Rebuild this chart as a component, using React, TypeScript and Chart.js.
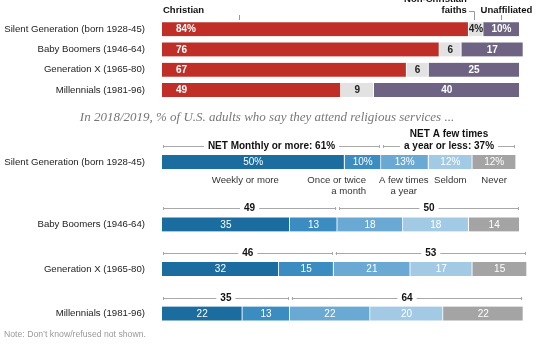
import React, { useEffect, useRef } from 'react';
import { Chart, registerables } from 'chart.js';
Chart.register(...registerables);

// ---------- data ----------
const generations = [
  'Silent Generation (born 1928-45)',
  'Baby Boomers (1946-64)',
  'Generation X (1965-80)',
  'Millennials (1981-96)',
];
const christian = [84, 76, 67, 49];
const nonChristian = [4, 6, 6, 9];
const unaffiliated = [10, 17, 25, 40];

const weekly = [50, 35, 32, 22];
const monthly = [10, 13, 15, 13];
const fewTimes = [13, 18, 21, 22];
const seldom = [12, 18, 17, 20];
const never = [12, 14, 15, 22];
const netMonthly = [61, 49, 46, 35];
const netYearly = [37, 50, 53, 64];

const attendCategories = [
  ['Weekly or more'],
  ['Once or twice', 'a month'],
  ['A few times', 'a year'],
  ['Seldom'],
  ['Never'],
];

// ---------- style ----------
const FONT = '"Liberation Sans", Arial, sans-serif';
const AXIS_W = 162;
const PAD_R = 33;
const RED = '#bf2f28';
const LGRAY = '#e2e2e2';
const PURPLE = '#6e6383';
const BLUES = ['#1b6d9f', '#3a8cc1', '#6aa9d3', '#a3cae5', '#a4a4a4'];
const BORDER = { top: 0, bottom: 0, left: 0, right: 1 };

function yAxis(labels: string[]) {
  return {
    type: 'category' as const,
    labels,
    stacked: true,
    grid: { display: true, color: 'rgba(0,0,0,0)', drawOnChartArea: false, drawTicks: true, tickLength: 17 },
    border: { display: false },
    ticks: { color: '#222', font: { family: FONT, size: 9.65 }, padding: 0 },
    afterFit: (s: any) => {
      s.width = AXIS_W;
    },
  };
}
const xAxis = { type: 'linear' as const, min: 0, max: 100, display: false, stacked: true };

// ---------- plugins ----------
const topLabels = {
  id: 'topLabels',
  afterDatasetsDraw(chart: any) {
    const ctx = chart.ctx;
    ctx.save();
    ctx.textBaseline = 'middle';
    ctx.font = `bold 10px ${FONT}`;
    chart.data.datasets.forEach((ds: any, di: number) => {
      const meta = chart.getDatasetMeta(di);
      meta.data.forEach((el: any, i: number) => {
        const { x, base, y } = el.getProps(['x', 'base', 'y'], true);
        const v = ds.data[i];
        const txt = i === 0 ? `${v}%` : String(v);
        if (di === 0) {
          ctx.fillStyle = '#fff';
          ctx.textAlign = 'left';
          ctx.fillText(txt, base + 14, y + 0.5);
        } else {
          ctx.fillStyle = di === 1 ? '#222' : '#fff';
          ctx.textAlign = 'center';
          ctx.fillText(txt, (x + base) / 2, y + 0.5);
        }
      });
    });
    // header labels
    const xs = chart.scales.x;
    ctx.fillStyle = '#111';
    ctx.font = `bold 9.5px ${FONT}`;
    ctx.textAlign = 'left';
    ctx.fillText('Christian', chart.chartArea.left + 1, 10);
    const c0 = christian[0];
    const n0 = nonChristian[0];
    const u0 = unaffiliated[0];
    const chX = xs.getPixelForValue(c0 * 0.25);
    const ncX = xs.getPixelForValue(c0 + n0 / 2);
    const unX = xs.getPixelForValue(c0 + n0 + u0 / 2);
    ctx.textAlign = 'right';
    ctx.fillText('Non-Christian', ncX - 9, -1);
    ctx.fillText('faiths', ncX - 9, 10);
    ctx.textAlign = 'center';
    ctx.fillText('Unaffiliated', unX + 5, 10);
    ctx.strokeStyle = '#999';
    ctx.lineWidth = 1;
    ctx.beginPath();
    ctx.moveTo(Math.round(chX) + 0.5, 15);
    ctx.lineTo(Math.round(chX) + 0.5, 20);
    ctx.moveTo(ncX - 7, 11.5);
    ctx.lineTo(Math.round(ncX) - 1.5, 11.5);
    ctx.lineTo(Math.round(ncX) - 1.5, 20);
    ctx.moveTo(Math.round(unX) + 0.5, 15);
    ctx.lineTo(Math.round(unX) + 0.5, 20);
    ctx.stroke();
    ctx.restore();
  },
};

function makeAttendPlugin(withPct: boolean, rowOffset: number, showCats: boolean) {
  return {
    id: 'attendLabels',
    afterDatasetsDraw(chart: any) {
      const ctx = chart.ctx;
      ctx.save();
      ctx.textBaseline = 'middle';
      ctx.font = `10px ${FONT}`;
      chart.data.datasets.forEach((ds: any, di: number) => {
        const meta = chart.getDatasetMeta(di);
        meta.data.forEach((el: any, i: number) => {
          const { x, base, y } = el.getProps(['x', 'base', 'y'], true);
          const v = ds.data[i];
          ctx.fillStyle = '#fff';
          ctx.textAlign = 'center';
          ctx.fillText(withPct ? `${v}%` : String(v), (x + base) / 2, y + 0.5);
        });
      });
      // brackets
      const nRows = chart.data.datasets[0].data.length;
      for (let i = 0; i < nRows; i++) {
        const r = i + rowOffset;
        const e0 = chart.getDatasetMeta(0).data[i].getProps(['x', 'base', 'y', 'height'], true);
        const e1 = chart.getDatasetMeta(1).data[i].getProps(['x'], true);
        const e2 = chart.getDatasetMeta(2).data[i].getProps(['base'], true);
        const e4 = chart.getDatasetMeta(4).data[i].getProps(['x'], true);
        const top = e0.y - e0.height / 2;
        const ly = Math.round(top - 9) + 0.5;
        const g1 = withPct ? [`NET Monthly or more: ${netMonthly[r]}%`] : [String(netMonthly[r])];
        const g2 = withPct
          ? ['NET A few times', `a year or less: ${netYearly[r]}%`]
          : [String(netYearly[r])];
        const groups: [number, number, string[]][] = [
          [e0.base + 1, e1.x - 1, g1],
          [e2.base + 2, e4.x - 1, g2],
        ];
        groups.forEach(([a, b, lines]) => {
          ctx.strokeStyle = '#a8a8a8';
          ctx.lineWidth = 1;
          ctx.beginPath();
          ctx.moveTo(a, ly);
          ctx.lineTo(b, ly);
          ctx.moveTo(Math.round(a) + 0.5, ly - 1.5);
          ctx.lineTo(Math.round(a) + 0.5, ly + 1.5);
          ctx.moveTo(Math.round(b) - 0.5, ly - 1.5);
          ctx.lineTo(Math.round(b) - 0.5, ly + 1.5);
          ctx.stroke();
          ctx.font = `bold 10px ${FONT}`;
          const cx = (a + b) / 2;
          lines.forEach((t, k) => {
            const yy = ly - (lines.length - 1 - k) * 12;
            const w = ctx.measureText(t).width;
            if (k === lines.length - 1) {
              ctx.fillStyle = '#fff';
              ctx.fillRect(cx - w / 2 - 4, yy - 6, w + 8, 12);
            }
            ctx.fillStyle = '#111';
            ctx.textAlign = 'center';
            ctx.fillText(t, cx, yy);
          });
        });
        if (showCats) {
          ctx.font = `9.6px ${FONT}`;
          ctx.fillStyle = '#333';
          const bottom = e0.y + e0.height / 2;
          for (let d = 0; d < 5; d++) {
            const el = chart.getDatasetMeta(d).data[i].getProps(['x', 'base'], true);
            const lines = attendCategories[d];
            let ax = (el.x + el.base) / 2;
            let align: CanvasTextAlign = 'center';
            if (d === 0) ax -= 8;
            if (d === 1) {
              ax = el.x - 15;
              align = 'right';
            }
            if (d === 2) ax -= 1;
            lines.forEach((t, k) => {
              ctx.textAlign = align;
              ctx.fillText(t, ax, bottom + 11 + k * 11.5);
            });
          }
        }
      }
      ctx.restore();
    },
  };
}

function attendDatasets(idx: number[]) {
  const series = [weekly, monthly, fewTimes, seldom, never];
  const names = ['Weekly or more', 'Once or twice a month', 'A few times a year', 'Seldom', 'Never'];
  return series.map((s, k) => ({
    label: names[k],
    data: idx.map((i) => s[i]),
    backgroundColor: BLUES[k],
    borderColor: '#fff',
    borderWidth: BORDER,
    borderSkipped: false,
    barThickness: 14,
  }));
}

function useChart(ref: React.RefObject<HTMLCanvasElement>, build: () => any) {
  useEffect(() => {
    if (!ref.current) return;
    const c = new Chart(ref.current, build());
    return () => c.destroy();
  }, []);
}

const baseOptions = (padTop: number, padBottom: number, labels: string[]) => ({
  indexAxis: 'y' as const,
  animation: false as const,
  responsive: false,
  maintainAspectRatio: false,
  events: [],
  layout: { padding: { left: 0, right: PAD_R, top: padTop, bottom: padBottom } },
  plugins: { legend: { display: false }, tooltip: { enabled: false } },
  scales: { x: xAxis, y: yAxis(labels) },
});

export default function App() {
  const topRef = useRef<HTMLCanvasElement>(null);
  const silentRef = useRef<HTMLCanvasElement>(null);
  const restRef = useRef<HTMLCanvasElement>(null);

  useChart(topRef, () => ({
    type: 'bar',
    data: {
      labels: generations,
      datasets: [
        { label: 'Christian', data: christian, backgroundColor: RED },
        { label: 'Non-Christian faiths', data: nonChristian, backgroundColor: LGRAY },
        { label: 'Unaffiliated', data: unaffiliated, backgroundColor: PURPLE },
      ].map((d) => ({ ...d, borderColor: '#fff', borderWidth: BORDER, borderSkipped: false, barThickness: 14 })),
    },
    options: baseOptions(19, 9.8, generations),
    plugins: [topLabels],
  }));

  useChart(silentRef, () => ({
    type: 'bar',
    data: { labels: [generations[0]], datasets: attendDatasets([0]) },
    options: baseOptions(28, 80 - 46, [generations[0]]),
    plugins: [makeAttendPlugin(true, 0, true)],
  }));

  useChart(restRef, () => ({
    type: 'bar',
    data: { labels: generations.slice(1), datasets: attendDatasets([1, 2, 3]) },
    options: baseOptions(12.1, 14.1, generations.slice(1)),
    plugins: [makeAttendPlugin(false, 1, false)],
  }));

  const abs = (top: number, h: number): React.CSSProperties => ({
    position: 'absolute',
    left: 0,
    top,
    width: 560,
    height: h,
  });

  return (
    <div style={{ position: 'absolute', left: 0, top: 0, width: 560, height: 350, background: '#fff', overflow: 'hidden' }}>
      <canvas ref={topRef} width={560} height={110} style={abs(0, 110)} />
      <div
        style={{
          position: 'absolute',
          left: 0,
          top: 109,
          width: 534,
          textAlign: 'center',
          font: 'italic 13px "Liberation Serif", serif',
          lineHeight: '16px',
          color: '#777',
        }}
      >
        In 2018/2019, % of U.S. adults who say they attend religious services ...
      </div>
      <canvas ref={silentRef} width={560} height={80} style={abs(125, 80)} />
      <canvas ref={restRef} width={560} height={160} style={abs(190, 160)} />
      <div
        style={{
          position: 'absolute',
          left: 4,
          top: 328,
          font: `8.7px ${FONT}`,
          lineHeight: '12px',
          color: '#999',
        }}
      >
        Note: Don’t know/refused not shown.
      </div>
    </div>
  );
}
